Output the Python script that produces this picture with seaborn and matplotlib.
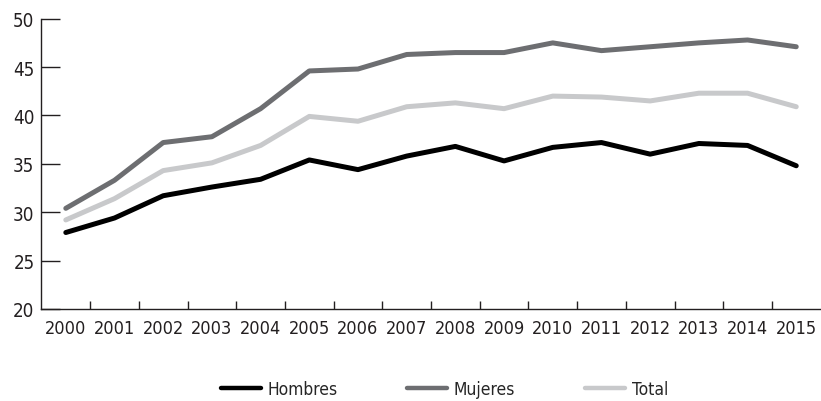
import numpy as np
import pandas as pd
import matplotlib
matplotlib.use("Agg")
import matplotlib.pyplot as plt
import seaborn as sns

years = list(range(2000, 2016))
hombres = [27.9, 29.4, 31.7, 32.6, 33.4, 35.4, 34.4, 35.8, 36.8, 35.3, 36.7, 37.2, 36.0, 37.1, 36.9, 34.8]
mujeres = [30.4, 33.3, 37.2, 37.8, 40.7, 44.6, 44.8, 46.3, 46.5, 46.5, 47.5, 46.7, 47.1, 47.5, 47.8, 47.1]
total = [29.2, 31.4, 34.3, 35.1, 36.9, 39.9, 39.4, 40.9, 41.3, 40.7, 42.0, 41.9, 41.5, 42.3, 42.3, 40.9]
series_names = ["Hombres", "Mujeres", "Total"]
colors = ["#000000", "#6d6e71", "#c8c9cb"]
yticks = [20, 25, 30, 35, 40, 45, 50]

sns.set_style("white")
plt.rcParams['font.family'] = ['DejaVu Sans']
plt.rcParams['font.stretch'] = 'condensed'

df = pd.DataFrame({
    "idx": list(range(len(years))) * 3,
    "valor": hombres + mujeres + total,
    "serie": [series_names[0]] * 16 + [series_names[1]] * 16 + [series_names[2]] * 16,
})

fig = plt.figure(figsize=(8.21, 4.02), dpi=100)
ax = fig.add_axes([0.0505, 0.229, 0.949, 0.722])
sns.lineplot(data=df, x="idx", y="valor", hue="serie", palette=colors,
             linewidth=3.6, ax=ax, legend=True, solid_capstyle="round")

ax.set_xlim(-0.5, 15.5)
ax.set_ylim(20, 50)
ax.set_yticks(yticks)
ax.set_yticklabels([str(t) for t in yticks], fontsize=13.5, color="#231f20")
ax.set_xticks(range(len(years)))
ax.set_xticklabels([str(y) for y in years], fontsize=13, color="#231f20")
ax.set_xticks(np.arange(0.5, 15.5, 1.0), minor=True)
ax.tick_params(axis="x", which="major", length=0, pad=7)
ax.tick_params(axis="x", which="minor", direction="in", length=5.5, width=1, color="#231f20", bottom=True)
ax.tick_params(axis="y", which="major", direction="in", length=14, width=1, color="#231f20", pad=5, left=True)
ax.set_xlabel("")
ax.set_ylabel("")
for s in ["top", "right"]:
    ax.spines[s].set_visible(False)
for s in ["left", "bottom"]:
    ax.spines[s].set_color("#231f20")
    ax.spines[s].set_linewidth(1)

handles, labels = ax.get_legend_handles_labels()
for h in handles:
    h.set_linewidth(3.2)
ax.legend(handles, labels, loc="center", bbox_to_anchor=(0.517, -0.275), ncol=3,
          frameon=False, fontsize=12.5, handlelength=2.3, handletextpad=0.4,
          columnspacing=4.0)

fig.savefig("out.png", dpi=100)
